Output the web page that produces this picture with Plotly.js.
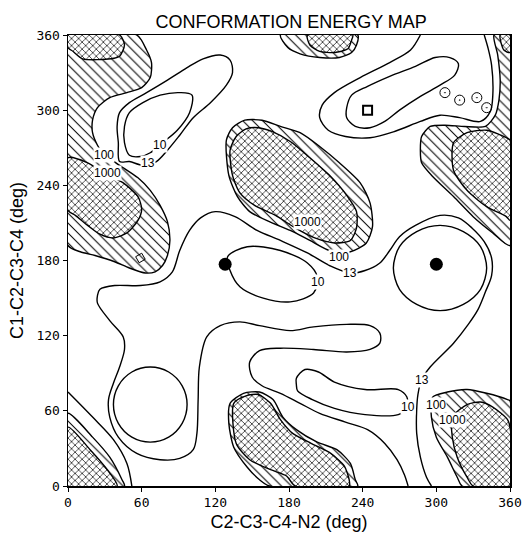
<!DOCTYPE html>
<html><head><meta charset="utf-8">
<script src="https://cdn.plot.ly/plotly-3.0.1.min.js"></script>
<style>html,body{margin:0;padding:0;background:#fff}</style>
</head><body><div id="chart" style="width:523px;height:534px"></div>
<script>
// ---- data (degrees) ----
// hatched regions (E > 100)
const h100LeftX = [0,56,64,68,67,60,48,34,24,20,20,24,29,42,57,67,75,81,83,81,77,71,63,50,38,22,10,0,0];
const h100LeftY = [360,360,348,338,326,318,314,310,302,292,282,272,265,256,246,236,224,211,196,184,176,171,170,174,179,184,187,192,360];
const h100BLX = [0,0,20,34,44,46,0];
const h100BLY = [0,58,39,23,5,0,0];
const h100CenterX = [129,134,144,158,173,189,205,221,238,246,248,243,230,213,197,181,164,148,138,131,129];
const h100CenterY = [276,286,292,292,287,282,271,258,242,226,207,194,187,188,196,204,211,219,231,248,276];
const h100BottomX = [164,156,146,135,131,132,143,156,167,175,186,203,219,230,234,236,164];
const h100BottomY = [0,5,15,31,50,66,74,75,69,55,45,35,29,18,5,0,0];
const h100TopX = [173,179,189,205,221,231,235,236,173];
const h100TopY = [360,350,345,342,342,346,352,360,360];
const h100RightX = [347,350,352,351,348,340,323,307,295,288,287,288,297,314,330,346,360,360,347];
const h100RightY = [360,344,324,308,296,287,287,288,287,279,268,258,247,231,215,202,192,360,360];
const h100BRX = [297,309,325,341,358,360,360,321,317,309,300,296,297];
const h100BRY = [71,75,77,74,69,68,0,0,7,23,39,55,71];
// cross-hatched regions (E > 1000)
const h1000TLX = [0,42,46,42,35,12,4,0,0];
const h1000TLY = [360,360,352,343,341,341,347,350,360];
const h1000LeftX = [0,16,29,45,57,60,57,48,37,26,16,6,0,0];
const h1000LeftY = [262,258,250,242,231,221,212,202,198,201,208,216,220,262];
const h1000BLX = [0,0,18,32,40,0];
const h1000BLY = [0,47,29,13,0,0];
const h1000CenterX = [132,137,145,155,166,181,197,213,227,235,235,230,217,201,185,169,152,140,134,132];
const h1000CenterY = [268,279,285,286,283,275,262,248,232,219,206,196,194,198,206,216,224,234,248,268];
const h1000BottomX = [135,145,155,165,173,183,198,214,225,229,229,185,178,165,148,137,135];
const h1000BottomY = [66,72,73,66,53,42,34,26,16,5,0,0,8,13,21,34,66];
const h1000TopX = [195,197,205,217,228,231,232,195];
const h1000TopY = [360,352,347,346,349,356,360,360];
const h1000RightX = [314,325,341,357,360,360,357,341,325,314,314];
const h1000RightY = [274,282,284,278,276,212,215,223,236,252,274];
const h1000TRX = [352,360,360,355,352];
const h1000TRY = [360,360,346,348,360];
const h1000BRX = [313,325,336,346,358,360,360,330,325,317,313,313];
const h1000BRY = [55,65,67,63,53,47,0,0,7,23,39,55];
// contour lines (E = 13 and E = 10)
const c13LoopX = [42,41,40,42,50,64,81,97,110,124,132,134,129,116,102,91,81,72,61,50,42];
const c13LoopY = [259,274,287,298,306,314,324,334,341,344,340,330,320,306,294,280,268,259,256,259,259];
const c10LoopX = [101,99,89,77,67,59,50,46,46,50,61,75,91,101];
const c10LoopY = [312,298,284,274,266,263,264,274,287,298,306,312,314,312];
const c13MainX = [296,292,287,284,284,285,288,295,314,326,334,340,345,345,339,329,318,303,283,270,262,254,242,230,213,195,173,154,136,120,108,99,91,85,75,59,38,26,24,24,34,45,46,42,37,33,34,41,56,75,91,102,105,106,107,113,124,140,156,181,200,227,246,254,254,246,227,200,173,156,148,150,158,173,189,205,226,244,258,268,274,277];
const c13MainY = [0,7,23,42,61,73,85,95,114,129,141,155,168,182,195,206,214,216,208,199,188,178,172,170,176,186,196,204,215,219,214,204,188,171,163,160,160,157,152,146,132,119,109,95,82,69,55,39,26,21,22,29,42,69,95,119,128,131,128,124,127,129,128,122,114,109,107,109,110,108,99,87,80,74,66,58,51,45,34,21,9,0];
const c13BLX = [0,20,37,48,52];
const c13BLY = [75,55,37,18,0];
const c13TopX = [287,279,262,238,217,207,205,212,226,246,266,287,303,319,336,344,346,345,342,339];
const c13TopY = [360,348,338,326,314,304,294,284,279,278,283,291,296,294,291,299,312,336,350,360];
const c10TopX = [227,231,244,262,283,299,311,318,315,303,287,270,258,246,234,227,227];
const c10TopY = [302,312,319,327,335,342,342,337,328,320,311,300,291,286,287,294,302];
const c10EllipseX = [130,146,173,195,203,200,181,159,140,132,130];
const c10EllipseY = [183,191,188,178,167,154,147,150,159,172,183];
const c10CircleRX = [341,336,322,303,284,270,265,270,284,303,322,336,341];
const c10CircleRY = [174,191,203,208,203,191,174,157,145,140,145,157,174];
const c10CircleLX = [97,93,82,67,52,41,37,41,52,67,82,93,97];
const c10CircleLY = [65,80,91,95,91,80,65,50,39,35,39,50,65];
const c10LowX = [186,193,204,217,242,269,276,276,269,242,217,199,187,186,186];
const c10LowY = [86,93,91,83,77,77,71,62,57,57,62,69,76,81,86];
// markers
const minimaX = [128,300];
const minimaY = [177,177];
const squareX = [244];
const squareY = [300];
const ringX = [307,319,333,341];
const ringY = [314,308,310,302];
const symbolX = [59];
const symbolY = [182];
// contour labels
const labelText = ['10','13','100','1000','1000','100','13','10','13','10','100','1000'];
const labelX = [75,65,29,32,195,221,230,204,288,277,300,313];
const labelY = [272,258,264,250,211,183,170,163,85,63,65,53];

const hatch = {shape:'\\', size:7, solidity:0.15, fgcolor:'#000', bgcolor:'#fff'};
const cross = {shape:'x', size:5, solidity:0.25, fgcolor:'#000', bgcolor:'#fff'};
const LW = 1.4;
function region(x,y,pat){return {type:'scatter',x:x,y:y,mode:'lines',fill:'toself',fillcolor:'#fff',fillpattern:pat,line:{color:'#000',width:LW,shape:'spline',smoothing:0.7},hoverinfo:'skip',showlegend:false};}
function curve(x,y){return {type:'scatter',x:x,y:y,mode:'lines',line:{color:'#000',width:LW,shape:'spline',smoothing:0.9},hoverinfo:'skip',showlegend:false};}

const traces = [
  region(h100LeftX,h100LeftY,hatch), region(h100BLX,h100BLY,hatch), region(h100CenterX,h100CenterY,hatch),
  region(h100BottomX,h100BottomY,hatch), region(h100TopX,h100TopY,hatch), region(h100RightX,h100RightY,hatch),
  region(h100BRX,h100BRY,hatch),
  region(h1000TLX,h1000TLY,cross), region(h1000LeftX,h1000LeftY,cross), region(h1000BLX,h1000BLY,cross),
  region(h1000CenterX,h1000CenterY,cross), region(h1000BottomX,h1000BottomY,cross), region(h1000TopX,h1000TopY,cross),
  region(h1000RightX,h1000RightY,cross), region(h1000TRX,h1000TRY,cross), region(h1000BRX,h1000BRY,cross),
  curve(c13LoopX,c13LoopY), curve(c10LoopX,c10LoopY), curve(c13MainX,c13MainY), curve(c13BLX,c13BLY),
  curve(c13TopX,c13TopY), curve(c10TopX,c10TopY),
  curve(c10EllipseX,c10EllipseY), curve(c10CircleRX,c10CircleRY),
  curve(c10CircleLX,c10CircleLY), curve(c10LowX,c10LowY),
  {type:'scatter',x:minimaX,y:minimaY,mode:'markers',marker:{symbol:'circle',size:13,color:'#000'},hoverinfo:'skip',showlegend:false},
  {type:'scatter',x:squareX,y:squareY,mode:'markers',marker:{symbol:'square-open',size:9,color:'#000',line:{width:2}},hoverinfo:'skip',showlegend:false},
  {type:'scatter',x:ringX,y:ringY,mode:'markers',marker:{symbol:'circle-open-dot',size:10,color:'#000',line:{width:1}},hoverinfo:'skip',showlegend:false},
  {type:'scatter',x:symbolX,y:symbolY,mode:'markers',marker:{symbol:'square-open',size:7,angle:-30,color:'#000',line:{width:1}},hoverinfo:'skip',showlegend:false}
];

const ann = labelText.map((t,i)=>({x:labelX[i],y:labelY[i],xref:'x',yref:'y',text:t,showarrow:false,
  font:{family:'Liberation Sans, sans-serif',size:12,color:'#000'},bgcolor:'#fff',borderpad:0}));

const tickFont = {family:'DejaVu Sans Mono, monospace',size:13,color:'#000'};
const titleFont = {family:'Liberation Sans, sans-serif',size:18,color:'#000'};
const axisTitleFont = {family:'Liberation Sans, sans-serif',size:18,color:'#000'};
const layout = {
  width:523,height:534,margin:{l:68,r:13,t:35,b:48},
  paper_bgcolor:'#fff',plot_bgcolor:'#fff',
  title:{text:'CONFORMATION ENERGY MAP',font:titleFont,x:0.505,xref:'paper',y:0.96,yref:'container',yanchor:'middle'},
  xaxis:{range:[0,360],tickvals:[0,60,120,180,240,300,360],ticks:'outside',ticklen:4,tickcolor:'#000',
    showgrid:false,zeroline:false,showline:true,mirror:true,linecolor:'#000',linewidth:1.5,tickfont:tickFont,
    title:{text:'C2-C3-C4-N2 (deg)',font:axisTitleFont,standoff:6}},
  yaxis:{range:[0,360],tickvals:[0,60,120,180,240,300,360],ticks:'outside',ticklen:4,tickcolor:'#000',
    showgrid:false,zeroline:false,showline:true,mirror:true,linecolor:'#000',linewidth:1.5,tickfont:tickFont,
    title:{text:'C1-C2-C3-C4 (deg)',font:axisTitleFont,standoff:8}},
  annotations:ann
};
Plotly.newPlot('chart',traces,layout,{staticPlot:true,displayModeBar:false});
</script></body></html>
